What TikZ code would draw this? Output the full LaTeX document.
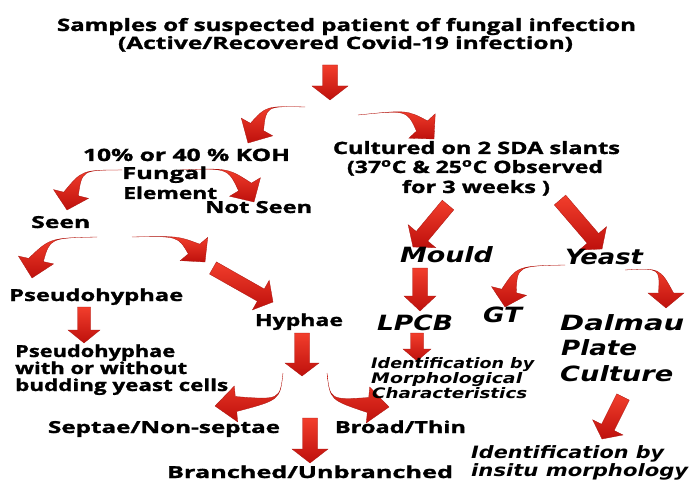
\documentclass[tikz,border=0pt]{standalone}
\usepackage{fontspec}
\usepackage{graphicx}
\setmainfont{Open Sans}[BoldFeatures={FakeBold=1.2}]
\newfontfamily\itf{DejaVu Sans}
\usetikzlibrary{calc}
\definecolor{arrlight}{RGB}{242,62,44}
\definecolor{arrdark}{RGB}{190,16,12}
\definecolor{arredge}{RGB}{170,20,15}
\newcommand\fw[2]{\resizebox{#1bp}{\height}{#2}}
\tikzset{
  arr/.style={top color=arrlight, bottom color=arrdark, draw=arredge, line width=0.3bp},
  lbl/.style={inner sep=0pt, anchor=base, font=\fontsize{16.5bp}{19bp}\selectfont\bfseries},
  lblw/.style={lbl, anchor=base west},
  ttl/.style={inner sep=0pt, anchor=base, font=\fontsize{17bp}{20bp}\selectfont\bfseries},
  itb/.style={inner sep=0pt, anchor=base, font=\fontsize{21bp}{24bp}\selectfont\itf\bfseries\itshape},
  itbw/.style={itb, anchor=base west},
  its/.style={inner sep=0pt, anchor=base west, font=\fontsize{14.5bp}{15bp}\selectfont\itf\bfseries\itshape},
  itm/.style={inner sep=0pt, anchor=base west, font=\fontsize{17bp}{19bp}\selectfont\itf\bfseries\itshape},
}
% straight block arrow: {shaft half width}{head half width}{head length}{from}{to}
\newcommand\barrow[5]{%
  \coordinate (tmpH) at ($(#5)!#3!(#4)$);
  \path[arr] ($(#4)!#1!90:(#5)$) -- ($(tmpH)!#1!90:(#5)$) -- ($(tmpH)!#2!90:(#5)$) -- (#5)
     -- ($(tmpH)!#2!-90:(#5)$) -- ($(tmpH)!#1!-90:(#5)$) -- ($(#4)!#1!-90:(#5)$) -- cycle;}
% curved tapering block arrow: {start}{control}{head base}{tip}
\newcommand\carrow[4]{%
  \path[arr] (#1) .. controls (#2) .. ($(#3)!7.5bp!90:(#4)$) -- ($(#3)!18bp!90:(#4)$) -- (#4)
     -- ($(#3)!18bp!-90:(#4)$) -- ($(#3)!7.5bp!-90:(#4)$) .. controls (#2) .. (#1) -- cycle;}
\begin{document}
\begin{tikzpicture}[x=1bp,y=-1bp]
\useasboundingbox[fill=white] (0,0) rectangle (690,482);
% ---------- arrow end points ----------
\coordinate (a1s) at (330,65);  \coordinate (a1e) at (330,100);
\coordinate (mos) at (448,205); \coordinate (moe) at (413,247);
\coordinate (yes) at (560,200); \coordinate (yee) at (602,249);
\coordinate (pss) at (84,307);  \coordinate (pse) at (84,343);
\coordinate (hys) at (302,333); \coordinate (hye) at (302,376);
\coordinate (brs) at (310,418); \coordinate (bre) at (310,463);
\coordinate (lps) at (420,268); \coordinate (lpe) at (420,311);
\coordinate (ids) at (417,333); \coordinate (ide) at (417,361);
\coordinate (dls) at (623,397); \coordinate (dle) at (602,439);
\coordinate (dgs) at (213,268); \coordinate (dge) at (273,302);
% ---------- straight arrows ----------
\barrow{7.5bp}{18bp}{14bp}{a1s}{a1e}
\barrow{7.5bp}{18bp}{14bp}{mos}{moe}
\barrow{7.5bp}{18bp}{14bp}{yes}{yee}
\barrow{6.5bp}{16bp}{13bp}{pss}{pse}
\barrow{7.5bp}{17bp}{13bp}{hys}{hye}
\barrow{7.5bp}{18bp}{14bp}{brs}{bre}
\barrow{7.5bp}{16bp}{15bp}{lps}{lpe}
\barrow{6.5bp}{14bp}{12bp}{ids}{ide}
\barrow{7bp}{17bp}{13bp}{dls}{dle}
\barrow{7bp}{17bp}{14bp}{dgs}{dge}
% ---------- curved arrows ----------
\carrow{305,107}{266,106}{257,127}{248,143}
\carrow{358,115}{407,110}{422,126}{434,139}
\carrow{122,170}{82,170}{71,194}{67,210}
\carrow{180,170}{228,168}{245,187}{254,202}
\carrow{97,237}{50,238}{36,260}{32,278}
\carrow{132,237}{178,236}{194,249}{205,262}
\carrow{283,373}{280,400}{236,404}{215,406}
\carrow{327,373}{330,400}{368,405}{389,407}
\carrow{565,265}{517,266}{509,291}{505,307}
\carrow{625,270}{660,268}{666,293}{666,308}
% ---------- texts ----------
\node[ttl] (t1) at (346.5,31) {\fw{579}{Samples of suspected patient of fungal infection}};
\node[ttl] (t2) at (345.5,49) {\fw{455}{(Active/Recovered Covid-19 infection)}};
\node[ttl] (koh) at (186.5,161) {\fw{207}{10\% or 40 \% KOH}};
\node[lblw] (fung) at (122,179) {\fw{85}{Fungal}};
\node[lblw] (elem) at (123,199) {\fw{94}{Element}};
\node[lblw] (nots) at (205,213) {\fw{107}{Not Seen}};
\node[lblw] (seen) at (31,228) {\fw{59}{Seen}};
\node[lblw] (ps1) at (9,301) {\fw{174}{Pseudohyphae}};
\node[lblw] (ps2a) at (15,357) {\fw{160}{Pseudohyphae}};
\node[lblw] (ps2b) at (15,374) {\fw{172}{with or without}};
\node[lblw] (ps2c) at (15,391) {\fw{213}{budding yeast cells}};
\node[lbl] (hyph) at (299,326) {\fw{88}{Hyphae}};
\node[lbl] (sept) at (164,433) {\fw{232}{Septae/Non-septae}};
\node[lbl] (broad) at (400.5,433) {\fw{131}{Broad/Thin}};
\node[lbl] (branch) at (310,478) {\fw{286}{Branched/Unbranched}};
\node[ttl] (cult1) at (476.5,154) {\fw{287}{Cultured on 2 SDA slants}};
\node[ttl] (cult2) at (475,173) {\fw{256}{(37\textsuperscript{o}C \& 25\textsuperscript{o}C Observed}};
\node[ttl] (cult3) at (476,193) {\fw{148}{for 3 weeks )}};
\node[itb] (mould) at (446.5,263) {\fw{93}{Mould}};
\node[itb] (yeast) at (604,265) {\fw{78}{Yeast}};
\node[itb] (lpcb) at (415,330) {\fw{76}{LPCB}};
\node[itb] (gt) at (502.5,322) {\fw{39}{GT}};
\node[itbw] (dal1) at (560,330) {\fw{124}{Dalmau}};
\node[itbw] (dal2) at (561,355) {\fw{76}{Plate}};
\node[itbw] (dal3) at (560,381) {\fw{113}{Culture}};
\node[its] (idm1) at (371,368) {\fw{163}{Identification by}};
\node[its] (idm2) at (371,383) {\fw{151}{Morphological}};
\node[its] (idm3) at (372,398) {\fw{155}{Characteristics}};
\node[itm] (idi1) at (471,458) {\fw{193}{Identification by}};
\node[itm] (idi2) at (471,476) {\fw{217}{insitu morphology}};
\end{tikzpicture}
\end{document}
